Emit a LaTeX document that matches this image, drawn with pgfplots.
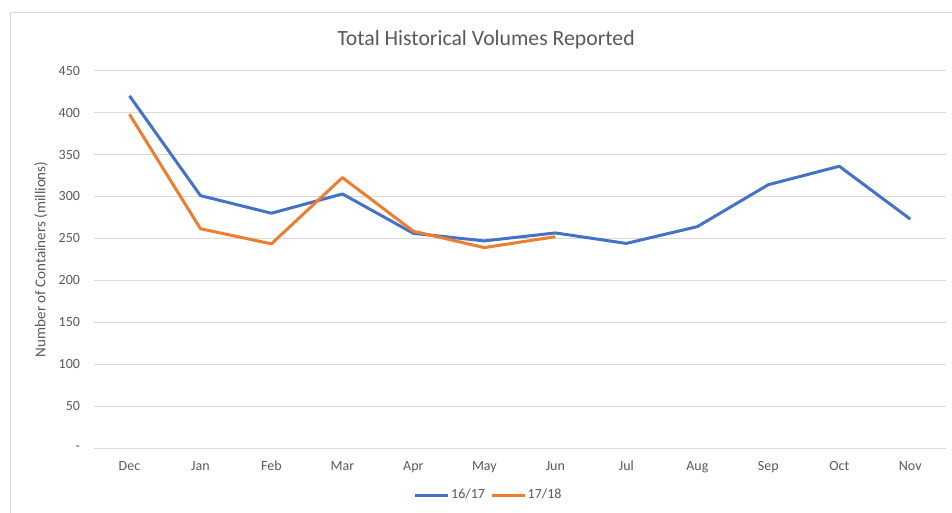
\documentclass[border=0pt]{standalone}
\usepackage{fontspec}
\setmainfont{Carlito}
\usepackage{pgfplots}
\pgfplotsset{compat=1.18}
\definecolor{cblue}{HTML}{4472C4}
\definecolor{corange}{HTML}{ED7D31}
\definecolor{ctext}{HTML}{595959}
\definecolor{cgrid}{HTML}{D9D9D9}
\definecolor{cframe}{HTML}{D9D9D9}
\begin{document}
\begin{tikzpicture}[x=0.75pt,y=0.75pt]
\useasboundingbox (0,0) rectangle (952,512);
\begin{scope}
\clip (0,0) rectangle (952,512);
\draw[cframe, line width=0.75pt] (10,-20) -- (10,499) -- (970,499);
\end{scope}
\node[text=ctext, font=\fontsize{16.3}{19}\selectfont] at (486,472) {Total Historical Volumes Reported};
\begin{axis}[
  at={(94pt*0.75,64pt*0.75)}, anchor=south west,
  scale only axis,
  width=638.8pt, height=283pt,
  xmin=-0.5, xmax=11.5, ymin=0, ymax=450,
  xtick={0,...,11},
  xticklabels={Dec,Jan,Feb,Mar,Apr,May,Jun,Jul,Aug,Sep,Oct,Nov},
  ytick={0,50,...,450},
  yticklabels={-,50,100,150,200,250,300,350,400,450},
  /pgf/number format/assume math mode=true,
  ticklabel style={text=ctext, font=\fontsize{10.5}{12}\selectfont},
  xticklabel style={yshift=-6.25pt},
  yticklabel style={xshift=-7pt},
  major tick length=0pt,
  axis line style={draw=none},
  ymajorgrids, major grid style={cgrid, line width=0.75pt},
  ylabel={Number of Containers (millions)},
  every axis y label/.style={at={(axis description cs:-0.0622,0.5)}, rotate=90, anchor=center,
    text=ctext, font=\fontsize{11.3}{13}\selectfont},
  legend columns=2,
  legend style={draw=none, fill=none, at={(rel axis cs:0.463,-0.1246)}, anchor=center,
    font=\fontsize{10.5}{12}\selectfont, text=ctext,
    nodes={inner xsep=1pt},
    /tikz/every even column/.append style={column sep=3pt},
    inner sep=0pt},
  legend image code/.code={\draw[#1] (0pt,0pt) -- (24.75pt,0pt);},
]
\addplot[cblue, line width=2.25pt, line join=round] coordinates {
(0,420) (1,301) (2,280) (3,303) (4,256) (5,247) (6,256.5) (7,244) (8,264) (9,314) (10,336) (11,273)};
\addlegendentry{16/17}
\addplot[corange, line width=2.25pt, line join=round] coordinates {
(0,398) (1,261.5) (2,243.5) (3,322.5) (4,258.5) (5,239) (6,252)};
\addlegendentry{17/18}
\end{axis}
\end{tikzpicture}
\end{document}
